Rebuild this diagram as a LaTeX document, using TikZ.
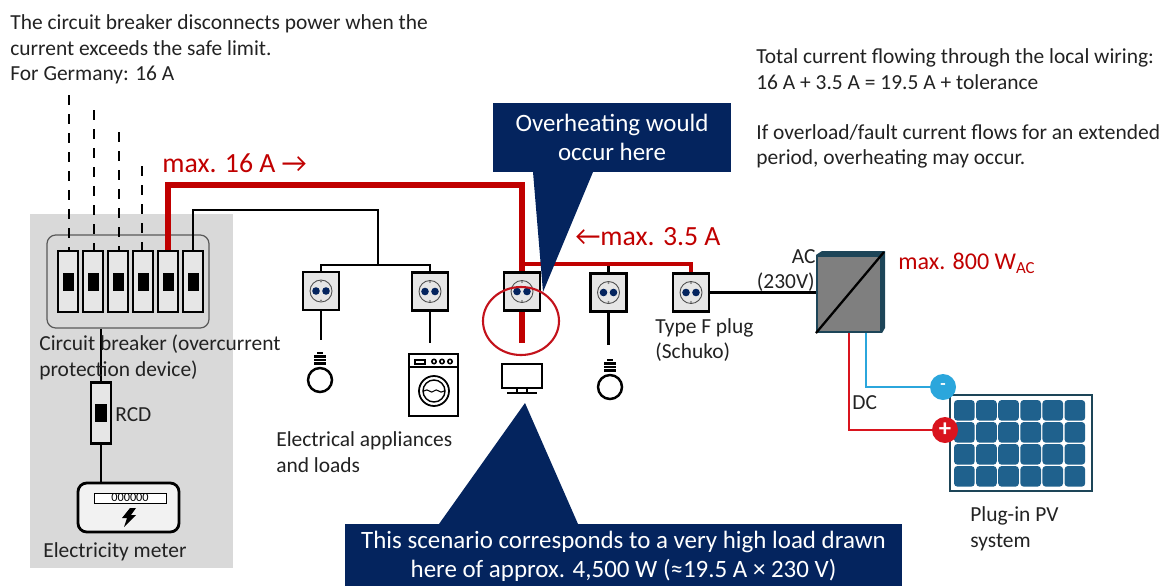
\documentclass[tikz,border=0pt]{standalone}
\usepackage{fontspec}
\setmainfont{Carlito}
\usetikzlibrary{shapes.geometric,positioning}

\definecolor{navy}{HTML}{04245E}
\definecolor{darkred}{HTML}{C00000}
\definecolor{txt}{HTML}{222222}
\definecolor{cabinetgray}{HTML}{D9D9D9}
\definecolor{boxgray}{HTML}{E6E6E6}
\definecolor{invgray}{HTML}{7F7F7F}
\definecolor{invedge}{HTML}{1D4558}
\definecolor{cellblue}{HTML}{1F618D}
\definecolor{dcblue}{HTML}{2BA6DC}
\definecolor{dcred}{HTML}{D9141E}

\def\px{0.02cm}

\tikzset{
  txtnode/.style={anchor=west, align=left, inner sep=0pt, text=txt,
    font=\fontsize{12.2}{14.5}\selectfont},
  redlabel/.style={anchor=west, inner sep=0pt, text=darkred,
    font=\fontsize{15.8}{17}\selectfont},
  callout/.style={fill=navy, text=white, align=center, inner sep=0pt,
    font=\fontsize{14.2}{16.5}\selectfont},
  breakerbox/.style={draw=black, fill=boxgray, line width=1.6pt, inner sep=0pt,
    minimum width=20*\px, minimum height=61*\px},
  breakerknob/.style={fill=black, inner sep=0pt, minimum width=11*\px, minimum height=18*\px},
  socketbox/.style={draw=black, fill=boxgray, line width=1.6pt, inner sep=0pt,
    minimum width=36*\px, minimum height=38*\px},
  wire/.style={draw=black, line width=1.7pt},
  redwire/.style={draw=darkred, line width=3pt},
  thinred/.style={draw=darkred, line width=2.4pt},
  icon/.style={draw=black, line width=1.2pt},
}

% socket face with two holes
\newcommand{\socket}[3]{
  \node[socketbox] (#1) at (#2,#3) {};
  \draw[draw=black!70, fill=boxgray, line width=0.5pt] (#1.center) circle (11);
  \fill[navy] ([xshift=-5*\px]#1.center) circle (3.8);
  \fill[navy] ([xshift=5*\px]#1.center) circle (3.8);
  \fill[gray] ([yshift=9.5*\px]#1.center) circle (1.2);
  \fill[gray] ([yshift=-9.5*\px]#1.center) circle (1.2);
}

% one breaker
\newcommand{\breaker}[3]{
  \node[breakerbox] (#1) at (#2,#3) {};
  \node[breakerknob] (#1knob) at (#1.center) {};
}

% bulb
\newcommand{\bulb}[3]{
  \node[circle, draw=black, line width=1.4pt, inner sep=0pt, minimum size=24*\px] (#1) at (#2,#3) {};
  \draw[icon] (#2-6,#3-16.5) -- (#2+6,#3-16.5);
  \draw[icon] (#2-6,#3-20) -- (#2+6,#3-20);
  \draw[icon] (#2-6,#3-23.5) -- (#2+6,#3-23.5);
  \fill[black] (#2-3,#3-26) rectangle (#2+3,#3-28);
}

\begin{document}
\begin{tikzpicture}[x=\px, y=-\px]
    \useasboundingbox (0,0) rectangle (1163,585);

    % Cabinet
    \node[fill=cabinetgray, inner sep=0pt, minimum width=203*\px, minimum height=354*\px] (cabinet) at (131.5,391) {};
    \node[draw=black!65, fill=cabinetgray, rounded corners=5pt, line width=0.7pt, inner sep=0pt,
      minimum width=162*\px, minimum height=93*\px] (panel) at (128,281.5) {};

    % Breakers
    \breaker{cbone}{68}{281.5}
    \breaker{cbtwo}{93}{281.5}
    \breaker{cbthree}{118}{281.5}
    \breaker{cbfour}{143}{281.5}
    \breaker{cbfive}{168}{281.5}
    \breaker{cbsix}{193}{281.5}

    % Phases
    \coordinate (phaseone) at (69,95);
    \coordinate (phasetwo) at (94,110);
    \coordinate (phasethree) at (119,132);
    \coordinate (phasefour) at (142,166);
    \draw[black, line width=1.6pt, dash pattern=on 10*\px off 9*\px] (phaseone) -- (phaseone |- cbone.north);
    \draw[black, line width=1.6pt, dash pattern=on 10*\px off 9*\px] (phasetwo) -- (phasetwo |- cbtwo.north);
    \draw[black, line width=1.6pt, dash pattern=on 10*\px off 9*\px] (phasethree) -- (phasethree |- cbthree.north);
    \draw[black, line width=1.6pt, dash pattern=on 10*\px off 9*\px] (phasefour) -- (phasefour |- cbfour.north);

    % RCD and meter
    \node[breakerbox] (rcd) at (101,413) {};
    \node[breakerknob, minimum width=12*\px] (rcdknob) at (rcd.center) {};
    \node[draw=black, fill=boxgray!50, rounded corners=5pt, line width=1.6pt, inner sep=0pt,
      minimum width=101*\px, minimum height=49*\px] (meter) at (128.5,507.5) {};
    \node[draw=black, fill=white, line width=0.5pt, inner sep=0pt, minimum width=72*\px, minimum height=10*\px,
      font=\fontsize{7}{7}\selectfont] (digits) at (130,498) {000000};
    \fill[black] (130,508) -- (122,518) -- (127,518) -- (124,527) -- (136,515) -- (131,515) -- (136,508) -- cycle;
    \draw[black, line width=1pt] (rcd.north |- panel.south) -- (rcd.north);
    \draw[wire] (rcd.south) -- (rcd.south |- meter.north);

    % Sockets
    \socket{sone}{321}{291}
    \socket{stwo}{430}{291.5}
    \socket{sthree}{522}{291.5}
    \socket{sfour}{608.5}{292.5}
    \socket{sfive}{691}{292.5}

    % Local wiring
    \coordinate (blacktop) at (378,210);
    \coordinate (blackbus) at (378,265);
    \coordinate (redtop) at (522,185);
    \coordinate (redbranch) at (522,264);
    \draw[wire] (cbsix.north) |- (blacktop) -- (blackbus);
    \draw[wire] (sone.north) |- (blackbus) -| (stwo.north);
    \draw[wire] (sfour.north) -- (sfour.north |- redbranch);
    \draw[redwire] (cbfive.north) |- (redtop) -- (sthree.north);
    \draw[thinred] (redbranch) -| (sfive.north);

    % Loads
    \bulb{bulbone}{320}{380}
    \bulb{bulbtwo}{610}{387}
    \coordinate (loadone) at (321,340);
    \coordinate (loadtwo) at (430,343);
    \coordinate (loadthree) at (522,343);
    \coordinate (loadfour) at (608.5,345);
    \draw[wire] (sone.south) -- (loadone);
    \draw[wire] (stwo.south) -- (loadtwo);
    \draw[redwire] (sthree.south) -- (loadthree);
    \draw[wire] (sfour.south) -- (loadfour);

    % Washing machine
    \node[draw=black, line width=0.9pt, inner sep=0pt, minimum width=49*\px, minimum height=62*\px] (washer) at (433.5,385) {};
    \draw[black, line width=0.9pt] (washer.west |- 0,367) -- (washer.east |- 0,367);
    \draw[black, line width=0.9pt] (415,360) rectangle (425,364);
    \draw[black, line width=0.9pt] (434,361.5) circle (2.2);
    \draw[black, line width=0.9pt] (442,361.5) circle (2.2);
    \draw[black, line width=0.9pt] (450,361.5) circle (2.2);
    \draw[black, line width=1pt] (434,391) circle (15);
    \draw[black, line width=0.8pt] (434,391) circle (11);
    \draw[black, line width=0.6pt] (424,391) .. controls (428,387) and (431,395) .. (434,391) .. controls (437,387) and (440,395) .. (444,391);

    % Screen
    \node[draw=black, line width=1.3pt, inner sep=0pt, minimum width=40*\px, minimum height=24*\px] (screen) at (522,376) {};
    \draw[black, line width=0.9pt] (517,388) -- (517,393);
    \draw[black, line width=0.9pt] (527,388) -- (527,393);
    \draw[black, line width=0.9pt] (507,393) -- (537,393);

    % Inverter
    \node[draw=invedge, fill=invgray, line width=1.2pt, inner sep=0pt, minimum width=64*\px, minimum height=76*\px] (inv) at (849,294) {};
    \fill[invedge] (inv.north west) -- (822,251) -- (885,251) -- (885,328) -- (inv.south east) -- (inv.north east) -- cycle;
    \draw[black, line width=1.3pt] (inv.south west) -- (884,252);
    \draw[wire] (sfive.east) -- (sfive.east -| inv.west);

    % PV panel
    \node[draw=invedge, fill=white, line width=0.9pt, inner sep=0pt, minimum width=142*\px, minimum height=96*\px] (pv) at (1021,443) {};
    \foreach \col in {0,...,5} {
      \foreach \row in {0,...,3} {
        \fill[cellblue, rounded corners=2pt] (954+\col*22.1,400+\row*22) rectangle ++(20.7,20.7);
      }
    }
    \node[circle, fill=dcblue, text=white, inner sep=0pt, minimum size=26*\px, font=\bfseries] (minus) at (943,387) {-};
    \node[circle, fill=dcred, text=white, inner sep=0pt, minimum size=26*\px, font=\fontsize{14}{14}\selectfont\bfseries] (plus) at (945,430) {+};
    \draw[dcred, line width=1.5pt] (inv.south) |- (plus);
    \draw[dcblue, line width=1.5pt] ([xshift=17*\px]inv.south) |- (minus);

    % Callouts
    \node[callout, minimum width=238*\px, minimum height=69*\px] (overheat) at (612,137.5) {Overheating would\\occur here};
    \coordinate (overbaseleft) at (533,172);
    \coordinate (overbaseright) at (593,172);
    \coordinate (overtip) at (543,292);
    \fill[navy] (overbaseleft) -- (overtip) -- (overbaseright) -- cycle;

    \node[callout, minimum width=557*\px, minimum height=65*\px] (scenario) at (623.5,556.5) {This scenario corresponds to a very high load drawn\\here of approx. 4,500 W (≈19.5 A × 230 V)};
    \coordinate (scenbaseleft) at (439,524);
    \coordinate (scenbaseright) at (578,524);
    \coordinate (scentip) at (525,403);
    \fill[navy] (scenbaseleft) -- (scentip) -- (scenbaseright) -- cycle;

    \node[ellipse, draw=dcred!90!black, line width=1.2pt, inner sep=0pt, minimum width=76*\px, minimum height=68*\px] (hotspot) at (521,321) {};

    % Texts
    \node[txtnode] (breakernote) at (10,49.5) {The circuit breaker disconnects power when the\\current exceeds the safe limit.\\For Germany: 16 A};
    \node[txtnode] (totalnote) at (756,69) {Total current flowing through the local wiring:\\16 A + 3.5 A = 19.5 A + tolerance};
    \node[txtnode] (faultnote) at (756,146.5) {If overload/fault current flows for an extended\\period, overheating may occur.};
    \node[redlabel] (maxgrid) at (162,163) {max. 16 A →};
    \node[redlabel] (maxplug) at (575,237) {←max. 3.5 A};
    \node[redlabel, font=\fontsize{13.7}{16}\selectfont] (maxpv) at (898,263) {max. 800 W\textsubscript{AC}};
    \node[txtnode, anchor=east] (aclabel) at (816,257) {AC};
    \node[txtnode, anchor=east] (voltlabel) at (815,282) {(230V)};
    \node[txtnode] (pluglabel) at (655,340) {Type F plug\\(Schuko)};
    \node[txtnode] (dclabel) at (852,403) {DC};
    \node[txtnode] (pvlabel) at (970,529) {Plug-in PV\\system};
    \node[txtnode] (loadlabel) at (276,452) {Electrical appliances\\and loads};
    \node[txtnode] (cblabel) at (39,357.5) {Circuit breaker (overcurrent\\protection device)};
    \node[txtnode] (rcdlabel) at (115,415) {RCD};
    \node[txtnode] (meterlabel) at (43,551.5) {Electricity meter};

  \end{tikzpicture}
\end{document}
